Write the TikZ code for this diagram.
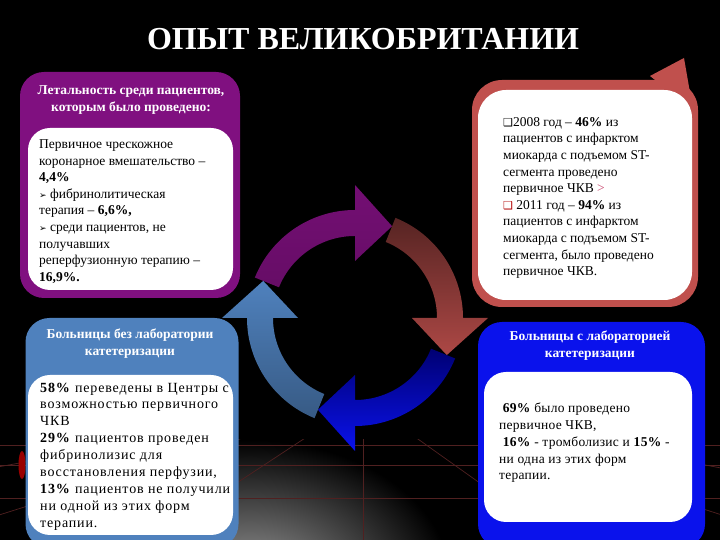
\documentclass[tikz,border=0pt]{standalone}
\usepackage{fontspec}
\setmainfont{Liberation Serif}
\newfontfamily\symfont{DejaVu Sans}
\usetikzlibrary{positioning}

\definecolor{purplebox}{RGB}{128,16,128}
\definecolor{redbox}{RGB}{192,80,77}
\definecolor{steelbox}{RGB}{79,129,189}
\definecolor{bluebox}{RGB}{10,18,236}
\definecolor{gridred}{RGB}{80,32,32}
\definecolor{pinkmark}{RGB}{200,70,110}

% one arrow of the cycle: colours, start angle
\newcommand\cyclearrow[3]{%
  \shade[top color=#1, bottom color=#2]
    (#3:108) arc[start angle=#3, end angle=#3-68, radius=108]
    -- (#3-68:133) -- (#3-90:99) -- (#3-68:57) -- (#3-68:82)
    arc[start angle=#3-68, end angle=#3, radius=82] -- cycle;}

\begin{document}
\begin{tikzpicture}[x=1pt,y=1pt,
    panel/.style={rounded corners=24pt, inner sep=0pt},
    paper/.style={fill=white, rounded corners=22pt, inner sep=0pt},
    head/.style={text=white, align=center, inner sep=0pt,
      font=\fontsize{13.5}{17}\selectfont\bfseries},
    body/.style={anchor=west, align=left, inner sep=0pt,
      font=\fontsize{13.5}{16.6}\selectfont}]

    \useasboundingbox (0,0) rectangle (720,540);
    \clip (0,0) rectangle (720,540);
    \fill[black] (0,0) rectangle (720,540);

    % floor glow and grid
    \shade[inner color=gray!80, outer color=black] (250,-40) ellipse (200 and 140);
    \begin{scope}
      \clip (0,0) rectangle (720,100);
      \foreach \x in {-400,-80,150,363,560,800,1100}
        \draw[gridred, line width=0.7pt] (363,140) -- (\x,0);
      \foreach \y in {95,75,42}
        \draw[gridred, line width=0.5pt] (0,\y) -- (720,\y);
    \end{scope}
    \fill[red!60!black] (22,75) ellipse (3.5 and 14);

    \node (T) [text=white, font=\fontsize{32}{32}\selectfont\bfseries] at (363,501)
      {ОПЫТ ВЕЛИКОБРИТАНИИ};

    % cycle
    \begin{scope}[shift={(355,222)}]
      \cyclearrow{purplebox!90!black}{purplebox!80!black}{158}
      \cyclearrow{redbox!45!black}{redbox!90!black}{68}
      \cyclearrow{blue!45!black}{bluebox}{-22}
      \cyclearrow{steelbox}{steelbox!70!black}{-112}
    \end{scope}

    % upper left
    \node (P) [panel, fill=purplebox, minimum width=220pt, minimum height=226pt] at (130,355) {};
    \node (Pw) [paper, minimum width=205pt, minimum height=162pt] at (130.5,331) {};
    \node (Ph) [head] at (131,440) {Летальность среди пациентов,\\которым было проведено:};
    \node (Pt) [body] at (39,328.5) {Первичное чрескожное\\
      коронарное вмешательство –\\
      \textbf{4,4\%}\\
      {\symfont\small ➢} фибринолитическая\\
      терапия – \textbf{6,6\%,}\\
      {\symfont\small ➢} среди пациентов, не\\
      получавших\\
      реперфузионную терапию –\\
      \textbf{16,9\%.}};

    % upper right
    \fill[redbox] (650,464) -- (684,482) -- (693,430) -- cycle;
    \node (R) [panel, fill=redbox, rounded corners=30pt, minimum width=226pt, minimum height=227pt] at (585,346.5) {};
    \node (Rw) [paper, rounded corners=28pt, minimum width=214pt, minimum height=210pt] at (585,345) {};
    \node (Rt) [body] at (503,342) {{\symfont\fontsize{11}{11}\selectfont ❑}2008 год – \textbf{46\%} из\\
      пациентов с инфарктом\\
      миокарда с подъемом ST-\\
      сегмента проведено\\
      первичное ЧКВ {\color{pinkmark}>}\\
      {\color{red!70!black}\symfont\fontsize{11}{11}\selectfont ❑} 2011 год – \textbf{94\%} из\\
      пациентов с инфарктом\\
      миокарда с подъемом ST-\\
      сегмента, было проведено\\
      первичное ЧКВ.};

    % lower left
    \node (S) [panel, fill=steelbox, minimum width=213pt, minimum height=230pt] at (132,107) {};
    \node (Sw) [paper, minimum width=205pt, minimum height=160pt] at (130.5,85) {};
    \node (Sh) [head] at (130,196.5) {Больницы без лаборатории\\катетеризации};
    \node (St) [body, font=\fontsize{14}{16.9}\selectfont\addfontfeature{LetterSpace=6}] at (40,83.5) {\textbf{58\%} переведены в Центры с\\
      возможностью первичного\\
      ЧКВ\\
      \textbf{29\%} пациентов проведен\\
      фибринолизис для\\
      восстановления перфузии,\\
      \textbf{13\%} пациентов не получили\\
      ни одной из этих форм\\
      терапии.};

    % lower right
    \node (B) [panel, fill=bluebox, minimum width=227pt, minimum height=226pt] at (591.5,105) {};
    \node (Bw) [paper, minimum width=208pt, minimum height=150pt] at (588,93) {};
    \node (Bh) [head] at (590,194.5) {Больницы с лабораторией\\катетеризации};
    \node (Bt) [body, font=\fontsize{13.5}{16.8}\selectfont\addfontfeature{LetterSpace=2}] at (499,97) {\ \textbf{69\%} было проведено\\
      первичное ЧКВ,\\
      \ \textbf{16\%} - тромболизис и \textbf{15\%} -\\
      ни одна из этих форм\\
      терапии.};

\end{tikzpicture}
\end{document}
